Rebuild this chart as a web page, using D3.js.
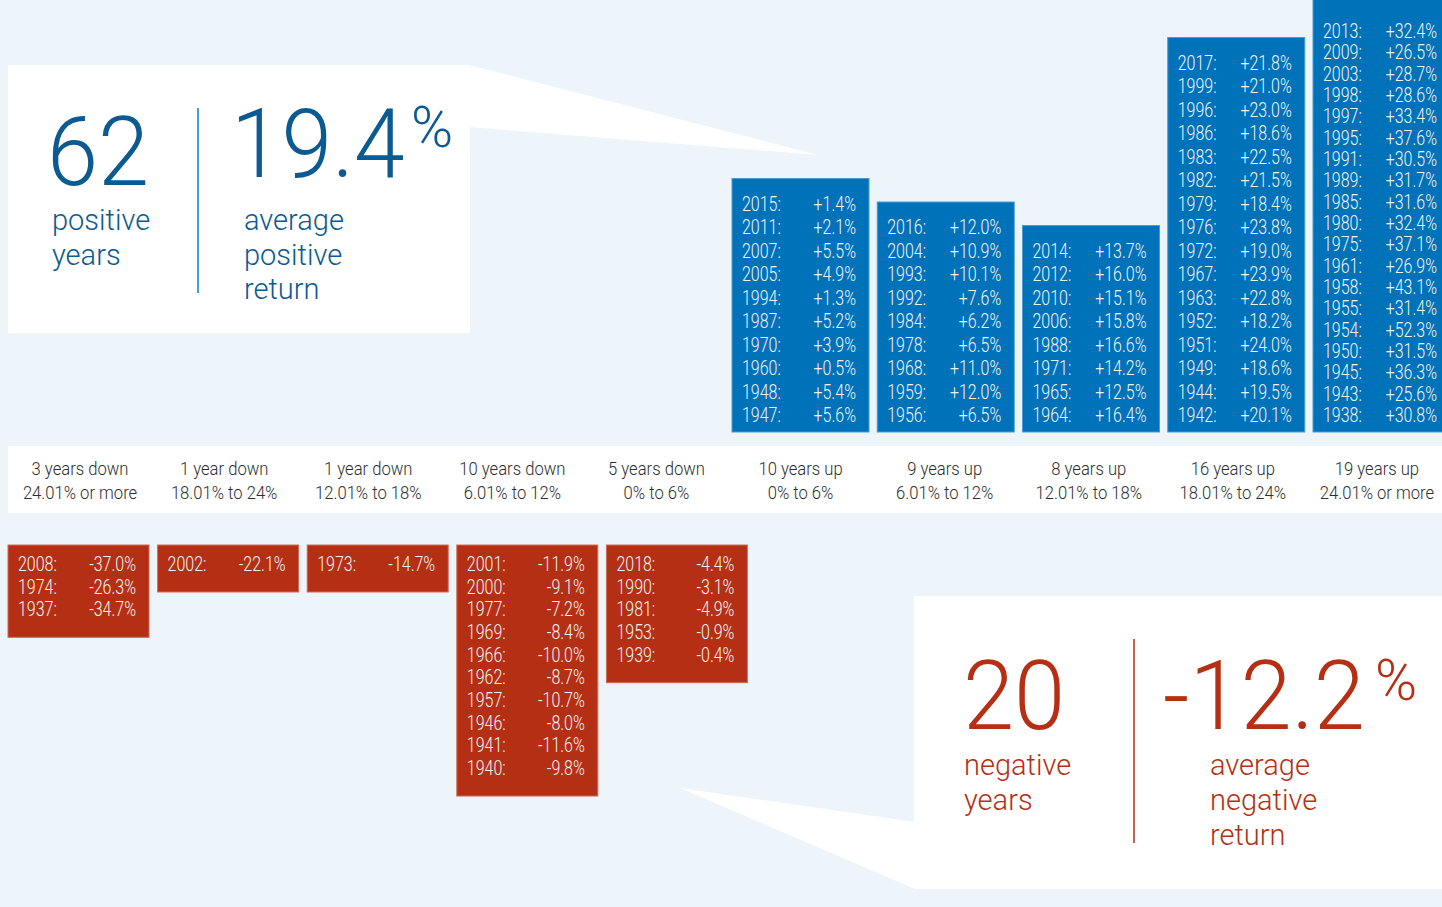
<!DOCTYPE html>
<html>
<head>
<meta charset="utf-8">
<script src="https://cdn.jsdelivr.net/npm/d3@7"></script>
<style>
  body { margin: 0; background: #edf5fb; }
  svg { display: block; }
  text { font-family: Roboto, "Noto Sans", sans-serif; }
</style>
</head>
<body>
<div id="chart"></div>
<script>
// category labels (white band)
const bandCounts = ["3 years down", "1 year down", "1 year down", "10 years down", "5 years down",
                    "10 years up", "9 years up", "8 years up", "16 years up", "19 years up"];
const bandRanges = ["24.01% or more", "18.01% to 24%", "12.01% to 18%", "6.01% to 12%", "0% to 6%",
                    "0% to 6%", "6.01% to 12%", "12.01% to 18%", "18.01% to 24%", "24.01% or more"];

// negative years, per bucket
const down24plus = [["2008", -37.0], ["1974", -26.3], ["1937", -34.7]];
const down18to24 = [["2002", -22.1]];
const down12to18 = [["1973", -14.7]];
const down6to12 = [["2001", -11.9], ["2000", -9.1], ["1977", -7.2], ["1969", -8.4], ["1966", -10.0],
                   ["1962", -8.7], ["1957", -10.7], ["1946", -8.0], ["1941", -11.6], ["1940", -9.8]];
const down0to6 = [["2018", -4.4], ["1990", -3.1], ["1981", -4.9], ["1953", -0.9], ["1939", -0.4]];

// positive years, per bucket
const up0to6 = [["2015", 1.4], ["2011", 2.1], ["2007", 5.5], ["2005", 4.9], ["1994", 1.3],
                ["1987", 5.2], ["1970", 3.9], ["1960", 0.5], ["1948", 5.4], ["1947", 5.6]];
const up6to12 = [["2016", 12.0], ["2004", 10.9], ["1993", 10.1], ["1992", 7.6], ["1984", 6.2],
                 ["1978", 6.5], ["1968", 11.0], ["1959", 12.0], ["1956", 6.5]];
const up12to18 = [["2014", 13.7], ["2012", 16.0], ["2010", 15.1], ["2006", 15.8], ["1988", 16.6],
                  ["1971", 14.2], ["1965", 12.5], ["1964", 16.4]];
const up18to24 = [["2017", 21.8], ["1999", 21.0], ["1996", 23.0], ["1986", 18.6], ["1983", 22.5],
                  ["1982", 21.5], ["1979", 18.4], ["1976", 23.8], ["1972", 19.0], ["1967", 23.9],
                  ["1963", 22.8], ["1952", 18.2], ["1951", 24.0], ["1949", 18.6], ["1944", 19.5], ["1942", 20.1]];
const up24plus = [["2013", 32.4], ["2009", 26.5], ["2003", 28.7], ["1998", 28.6], ["1997", 33.4],
                  ["1995", 37.6], ["1991", 30.5], ["1989", 31.7], ["1985", 31.6], ["1980", 32.4],
                  ["1975", 37.1], ["1961", 26.9], ["1958", 43.1], ["1955", 31.4], ["1954", 52.3],
                  ["1950", 31.5], ["1945", 36.3], ["1943", 25.6], ["1938", 30.8]];

const negGroups = [down24plus, down18to24, down12to18, down6to12, down0to6];
const posGroups = [up0to6, up6to12, up12to18, up18to24, up24plus];

const avgPositive = "19.4";
const avgNegative = "-12.2";

const W = 1442, H = 907;
const blue = "#0072ba", blueDark = "#0b5a91", red = "#b52f14";
const fmt = d3.formatLocale({ decimal: ".", thousands: ",", grouping: [3], currency: ["$", ""], minus: "-" }).format("+.1f");

const svg = d3.select("#chart").append("svg")
    .attr("width", W)
    .attr("height", H);

svg.append("rect").attr("width", W).attr("height", H).attr("fill", "#edf5fb");

// scales
const xBand = d3.scaleBand().domain(d3.range(10)).range([8, 1449]);
const xNeg = d3.scaleBand().domain(d3.range(5)).range([8, 747.4]).paddingInner(0.0575);
const xPos = d3.scaleBand().domain(d3.range(5)).range([732, 1450]).paddingInner(0.0568);

// callout panels
const topPanel = svg.append("g");
topPanel.append("polygon")
    .attr("points", [[469, 65], [818, 155], [469, 127]].join(" "))
    .attr("fill", "#fff");
topPanel.append("rect").attr("x", 8).attr("y", 65).attr("width", 462).attr("height", 268).attr("fill", "#fff");

const botPanel = svg.append("g");
botPanel.append("polygon")
    .attr("points", [[915, 822], [680, 788], [915, 889]].join(" "))
    .attr("fill", "#fff");
botPanel.append("rect").attr("x", 914).attr("y", 596).attr("width", W - 914).attr("height", 293).attr("fill", "#fff");

// band
svg.append("rect").attr("x", 8).attr("y", 446).attr("width", W - 8).attr("height", 67).attr("fill", "#fff");

const labels = svg.selectAll(".lab")
    .data(d3.range(10))
    .enter().append("g")
    .attr("class", "lab");

labels.append("text")
    .attr("transform", i => "translate(" + (xBand(i) + xBand.bandwidth() / 2) + ",475) scale(0.9,1)")
    .attr("text-anchor", "middle")
    .attr("font-size", 18.5)
    .attr("font-weight", 300)
    .attr("fill", "#2e2e2e")
    .text(i => bandCounts[i]);

labels.append("text")
    .attr("transform", i => "translate(" + (xBand(i) + xBand.bandwidth() / 2) + ",499) scale(0.9,1)")
    .attr("text-anchor", "middle")
    .attr("font-size", 18.5)
    .attr("font-weight", 300)
    .attr("fill", "#2e2e2e")
    .text(i => bandRanges[i]);

// box builder
function drawBox(g, rows, x0, x1, yFirst, step, boxTop, boxBottom, fill, stroke) {
    g.append("rect")
        .attr("x", x0).attr("y", boxTop)
        .attr("width", x1 - x0).attr("height", boxBottom - boxTop)
        .attr("fill", fill)
        .attr("stroke", stroke)
        .attr("stroke-width", 1);

    const r = g.selectAll(".row")
        .data(rows)
        .enter().append("g")
        .attr("class", "row");

    r.append("text")
        .attr("transform", (d, i) => "translate(" + (x0 + 10) + "," + (yFirst + i * step) + ") scale(0.82,1)")
        .attr("dy", "0.36em")
        .attr("font-size", 19.5)
        .attr("font-weight", 300)
        .attr("fill", "#f4f4f4")
        .text(d => d[0] + ":");

    r.append("text")
        .attr("transform", (d, i) => "translate(" + (x1 - 13) + "," + (yFirst + i * step) + ") scale(0.82,1)")
        .attr("dy", "0.36em")
        .attr("text-anchor", "end")
        .attr("font-size", 19.5)
        .attr("font-weight", 300)
        .attr("fill", "#f4f4f4")
        .text(d => fmt(d[1]) + "%");
}

// negative boxes hang from the band
negGroups.forEach((rows, i) => {
    const g = svg.append("g");
    const step = 22.67;
    const yFirst = 564;
    const last = yFirst + (rows.length - 1) * step;
    drawBox(g, rows, xNeg(i), xNeg(i) + xNeg.bandwidth(), yFirst, step, 545, last + 28, red, "#d46a55");
});

// positive boxes stand on the band
posGroups.forEach((rows, i) => {
    const g = svg.append("g");
    const lastRow = 415;
    const maxStep = 23.5;
    const step = Math.min(maxStep, (lastRow - 31) / (rows.length - 1));
    const yFirst = lastRow - (rows.length - 1) * step;
    const boxTop = step < maxStep ? -2 : yFirst - 25;
    drawBox(g, rows, xPos(i), xPos(i) + xPos.bandwidth(), yFirst, step, boxTop, 432, blue, "#4d9ad0");
});

// summary: positive
const posCount = d3.sum(posGroups, g => g.length);
const negCount = d3.sum(negGroups, g => g.length);

topPanel.append("text")
    .attr("transform", "translate(47,185) scale(0.96,1)")
    .attr("font-size", 96).attr("font-weight", 300).attr("fill", blueDark)
    .text(posCount);
topPanel.append("text")
    .attr("transform", "translate(231,177) scale(0.95,1)")
    .attr("font-size", 96).attr("font-weight", 300).attr("fill", blueDark)
    .text(avgPositive);
topPanel.append("text")
    .attr("transform", "translate(411,147)")
    .attr("font-size", 57).attr("font-weight", 300).attr("fill", blueDark)
    .text("%");
topPanel.append("line")
    .attr("x1", 198).attr("x2", 198).attr("y1", 108).attr("y2", 293)
    .attr("stroke", "#4a9bd2").attr("stroke-width", 2);
["positive", "years"].forEach((t, i) => {
    topPanel.append("text").attr("x", 52).attr("y", 230 + i * 34.5)
        .attr("font-size", 29).attr("font-weight", 300).attr("fill", blueDark).text(t);
});
["average", "positive", "return"].forEach((t, i) => {
    topPanel.append("text").attr("x", 244).attr("y", 230 + i * 34.5)
        .attr("font-size", 29).attr("font-weight", 300).attr("fill", blueDark).text(t);
});

// summary: negative
botPanel.append("text")
    .attr("transform", "translate(963,729) scale(0.96,1)")
    .attr("font-size", 96).attr("font-weight", 300).attr("fill", red)
    .text(negCount);
botPanel.append("text")
    .attr("transform", "translate(1163,729) scale(0.96,1)")
    .attr("font-size", 96).attr("font-weight", 300).attr("fill", red)
    .text(avgNegative);
botPanel.append("text")
    .attr("transform", "translate(1375,700)")
    .attr("font-size", 57).attr("font-weight", 300).attr("fill", red)
    .text("%");
botPanel.append("line")
    .attr("x1", 1134).attr("x2", 1134).attr("y1", 639).attr("y2", 843)
    .attr("stroke", "#c8624a").attr("stroke-width", 2);
["negative", "years"].forEach((t, i) => {
    botPanel.append("text").attr("x", 964).attr("y", 775 + i * 35)
        .attr("font-size", 29).attr("font-weight", 300).attr("fill", red).text(t);
});
["average", "negative", "return"].forEach((t, i) => {
    botPanel.append("text").attr("x", 1210).attr("y", 775 + i * 35)
        .attr("font-size", 29).attr("font-weight", 300).attr("fill", red).text(t);
});
</script>
</body>
</html>
